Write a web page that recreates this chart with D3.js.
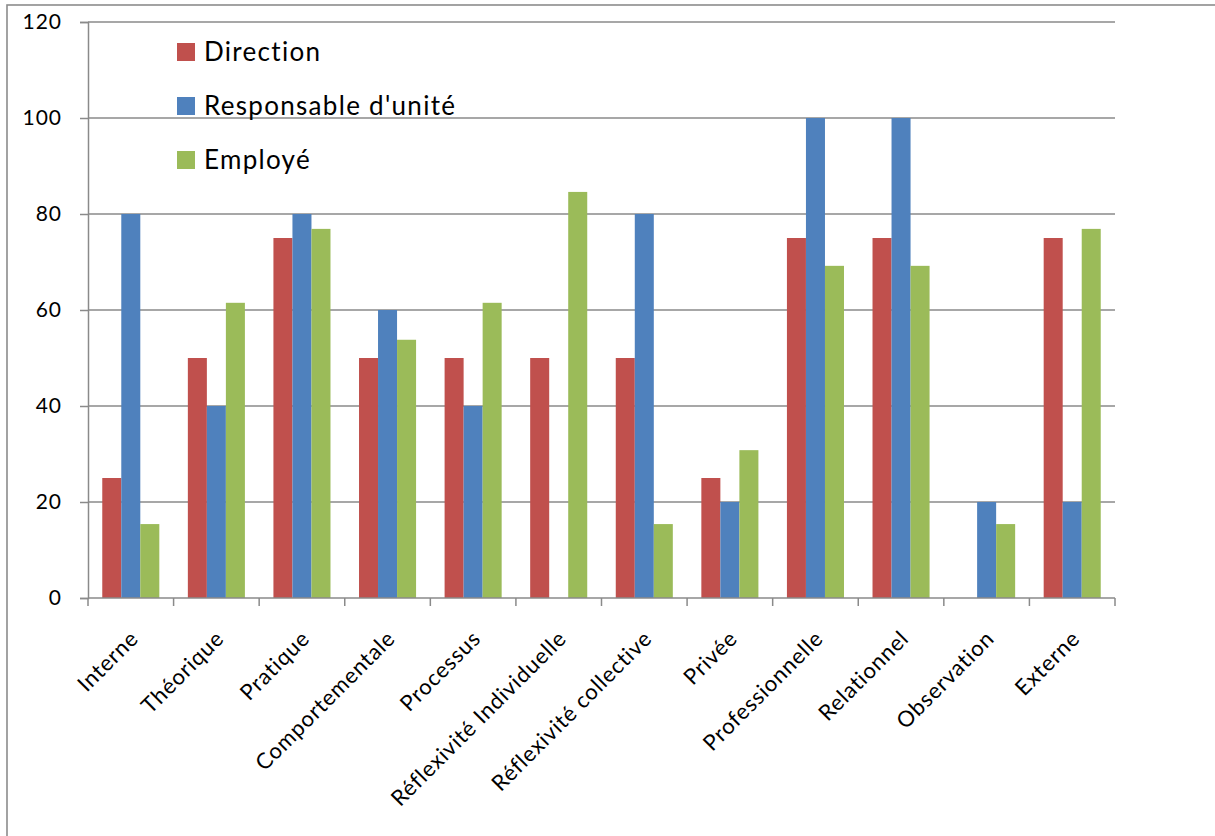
<!DOCTYPE html>
<html>
<head>
<meta charset="utf-8">
<script src="https://cdn.jsdelivr.net/npm/d3@7"></script>
<style>
  html, body { margin: 0; padding: 0; background: #fff; }
  svg { display: block; font-family: Lato, "Open Sans", sans-serif; }
</style>
</head>
<body>
<svg id="chart" width="1215" height="836"></svg>
<script>
// Categories along the x axis
const categories = ["Interne", "Théorique", "Pratique", "Comportementale", "Processus",
  "Réflexivité Individuelle", "Réflexivité collective", "Privée", "Professionnelle",
  "Relationnel", "Observation", "Externe"];

// Series values (percent)
const seriesNames = ["Direction", "Responsable d'unité", "Employé"];
const direction   = [25, 50, 75, 50, 50, 50, 50, 25, 75, 75, 0, 75];
const responsable = [80, 40, 80, 60, 40, 0, 80, 20, 100, 100, 20, 20];
const employe     = [15.4, 61.5, 76.9, 53.8, 61.5, 84.6, 15.4, 30.8, 69.2, 69.2, 15.4, 76.9];
const seriesColors = ["#C0504D", "#4F81BD", "#9BBB59"];

// Y axis tick labels
const yTicks = [0, 20, 40, 60, 80, 100, 120];

const seriesValues = [direction, responsable, employe];

const svg = d3.select("#chart");
const plotLeft = 88, plotRight = 1115, plotTop = 22, plotBottom = 598;
const axisGrey = "#8a8a8a";

// Outer chart frame
svg.append("rect")
  .attr("x", 7).attr("y", 5).attr("width", 1240).attr("height", 900)
  .attr("fill", "none").attr("stroke", "#8c8c8c").attr("stroke-width", 1.6);

const x = d3.scaleBand().domain(categories).range([plotLeft, plotRight]).paddingInner(0).paddingOuter(0);
const xSeries = d3.scaleBand().domain(seriesNames)
  .range([0, x.bandwidth()]).paddingInner(0).paddingOuter(0.75);
const y = d3.scaleLinear().domain([0, 120]).range([plotBottom, plotTop]);

// Horizontal gridlines
svg.append("g").selectAll("line").data(yTicks.filter(d => d > 0)).join("line")
  .attr("x1", plotLeft).attr("x2", plotRight)
  .attr("y1", d => y(d)).attr("y2", d => y(d))
  .attr("stroke", axisGrey).attr("stroke-width", 1.5);

// Y axis
const yAxis = svg.append("g").attr("transform", `translate(${plotLeft},0)`)
  .call(d3.axisLeft(y).tickValues(yTicks).tickSize(8).tickPadding(18).tickFormat(d3.format("d")));
yAxis.select(".domain").attr("stroke", axisGrey).attr("stroke-width", 1.5);
yAxis.selectAll(".tick line").attr("stroke", axisGrey).attr("stroke-width", 1.5);
yAxis.selectAll(".tick text").attr("font-size", 21).attr("fill", "#000")
  .attr("letter-spacing", "1px")
  .attr("font-family", "Lato, 'Open Sans', sans-serif");

// Bars
const groups = svg.append("g").selectAll("g").data(categories).join("g")
  .attr("transform", d => `translate(${x(d)},0)`);
groups.selectAll("rect")
  .data((c, i) => seriesNames.map((s, k) => ({ s, k, v: seriesValues[k][i] })))
  .join("rect")
  .attr("x", d => xSeries(d.s))
  .attr("width", xSeries.bandwidth())
  .attr("y", d => y(d.v))
  .attr("height", d => y(0) - y(d.v))
  .attr("fill", d => seriesColors[d.k]);

// X axis
const xAxis = svg.append("g").attr("transform", `translate(0,${plotBottom})`);
xAxis.append("line").attr("x1", plotLeft).attr("x2", plotRight).attr("y1", 0).attr("y2", 0)
  .attr("stroke", axisGrey).attr("stroke-width", 1.5);
xAxis.selectAll("line.tick").data(d3.range(categories.length + 1)).join("line")
  .attr("class", "tick")
  .attr("x1", i => plotLeft + i * x.step()).attr("x2", i => plotLeft + i * x.step())
  .attr("y1", 0).attr("y2", 8)
  .attr("stroke", axisGrey).attr("stroke-width", 1.5);
xAxis.selectAll("text").data(categories).join("text")
  .attr("transform", d => `translate(${x(d) + x.bandwidth() / 2 + 9},${42}) rotate(-45)`)
  .attr("text-anchor", "end")
  .attr("font-size", 22)
  .attr("letter-spacing", "0.8px")
  .attr("fill", "#000")
  .text(d => d);

// Legend
const legend = svg.append("g").attr("transform", "translate(177,43)");
const items = legend.selectAll("g").data(seriesNames).join("g")
  .attr("transform", (d, i) => `translate(0,${i * 54})`);
items.append("rect").attr("width", 18).attr("height", 18)
  .attr("fill", (d, i) => seriesColors[i]);
items.append("text").attr("x", 27).attr("y", 9).attr("dy", "0.35em")
  .attr("font-size", 26).attr("letter-spacing", "1.3px")
  .attr("fill", "#000").text(d => d);
</script>
</body>
</html>
